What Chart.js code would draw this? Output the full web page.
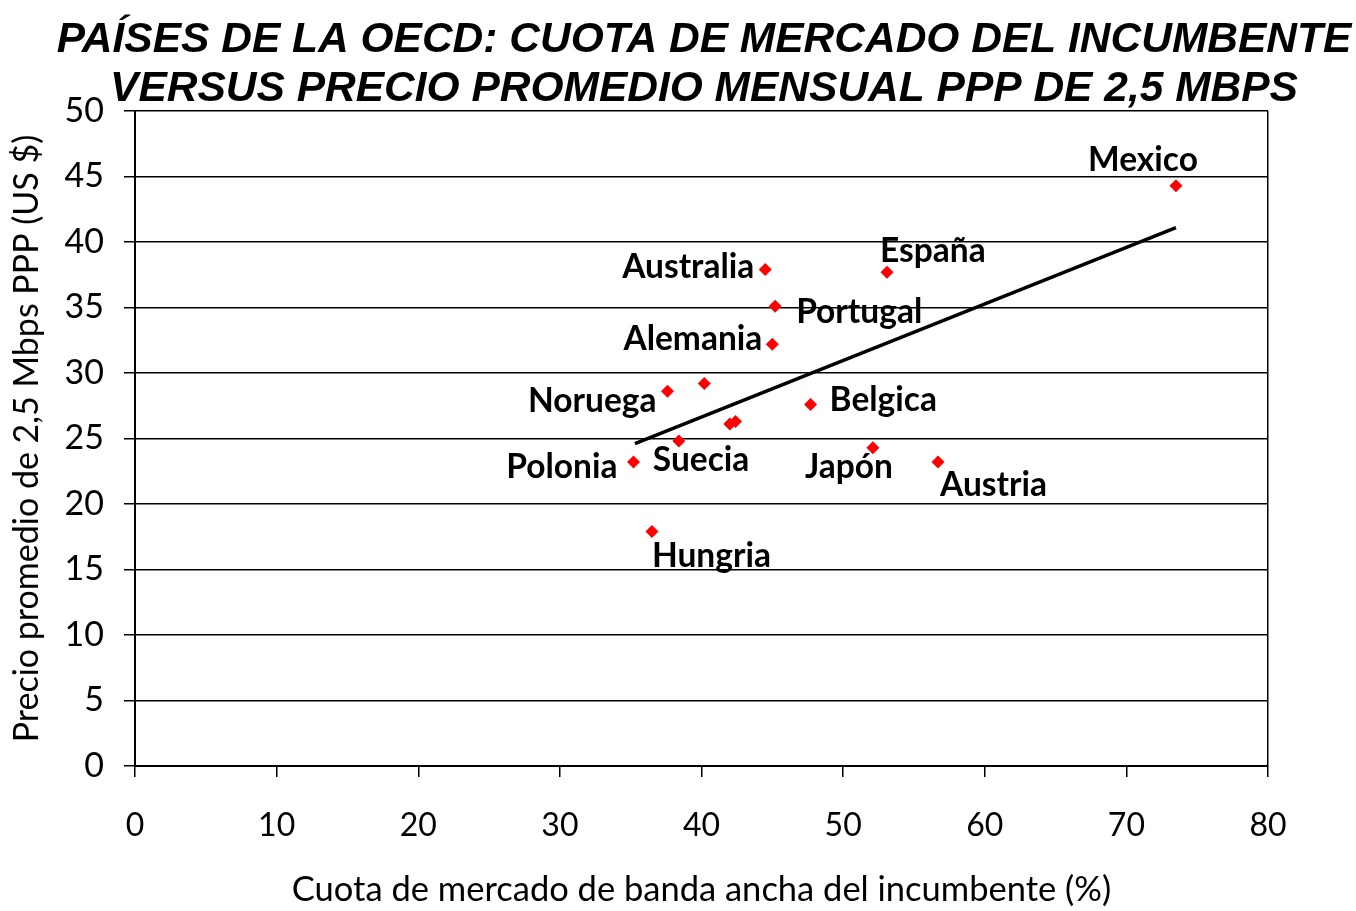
<!DOCTYPE html>
<html>
<head>
<meta charset="utf-8">
<script src="https://cdn.jsdelivr.net/npm/chart.js@4"></script>
<style>
  html, body { margin: 0; padding: 0; background: #fff; }
  #wrap { width: 1356px; height: 911px; }
</style>
</head>
<body>
<div id="wrap"><canvas id="chart" width="1356" height="911"></canvas></div>
<script>
// países (vacío = punto sin etiqueta)
var paises = ['Mexico', 'España', 'Australia', 'Portugal', 'Alemania', 'Noruega', '', 'Belgica', '', '', 'Suecia', 'Polonia', 'Japón', 'Austria', 'Hungria'];
var cuota = [73.5, 53.1, 44.5, 45.2, 45.0, 37.6, 40.2, 47.7, 42.0, 42.4, 38.4, 35.2, 52.1, 56.7, 36.5];
var precio = [44.3, 37.7, 37.9, 35.1, 32.2, 28.6, 29.2, 27.6, 26.1, 26.3, 24.8, 23.2, 24.3, 23.2, 17.9];
var tendenciaX = [35.3, 73.5];
var tendenciaY = [24.6, 41.1];
var titulo = ['PAÍSES DE LA OECD: CUOTA DE MERCADO DEL INCUMBENTE', 'VERSUS PRECIO PROMEDIO MENSUAL PPP DE 2,5 MBPS'];

// dónde va cada etiqueta respecto a su punto: [dx, dy, align]
var posEtiqueta = {
  'Mexico': [22, -25, 'right'],
  'España': [-7, -21, 'left'],
  'Australia': [-11, -2, 'right'],
  'Portugal': [21, 6, 'left'],
  'Alemania': [-10, -5, 'right'],
  'Noruega': [-11, 10, 'right'],
  'Belgica': [19, -4, 'left'],
  'Suecia': [-26, 19, 'left'],
  'Japón': [-24, 20, 'center'],
  'Austria': [2, 23, 'left'],
  'Polonia': [-16, 5, 'right'],
  'Hungria': [0, 25, 'left']
};

var puntos = cuota.map(function(x, i) { return { x: x, y: precio[i] }; });
var linea = tendenciaX.map(function(x, i) { return { x: x, y: tendenciaY[i] }; });

var etiquetasPlugin = {
  id: 'etiquetas',
  afterDatasetsDraw: function(chart) {
    var ctx = chart.ctx;
    var meta = chart.getDatasetMeta(0);
    ctx.save();
    ctx.font = 'bold 33.5px Lato, "Open Sans", sans-serif';
    ctx.fillStyle = '#000';
    ctx.textBaseline = 'middle';
    meta.data.forEach(function(pt, i) {
      var nombre = paises[i];
      if (!nombre) return;
      var p = posEtiqueta[nombre];
      ctx.textAlign = p[2];
      ctx.fillText(nombre, pt.x + p[0], pt.y + p[1]);
    });
    ctx.restore();
  }
};

var tituloPlugin = {
  id: 'tituloGrande',
  afterDraw: function(chart) {
    var ctx = chart.ctx;
    ctx.save();
    ctx.font = 'italic bold 42.5px "Liberation Sans", Arial, sans-serif';
    ctx.fillStyle = '#000';
    ctx.textAlign = 'center';
    ctx.textBaseline = 'alphabetic';
    ctx.fillText(titulo[0], 704, 52);
    ctx.fillText(titulo[1], 704, 101);
    ctx.restore();
  }
};

new Chart(document.getElementById('chart'), {
  type: 'scatter',
  data: {
    datasets: [
      {
        label: 'Países',
        data: puntos,
        pointStyle: 'rectRot',
        pointRadius: 6.5,
        pointBackgroundColor: '#ff0000',
        pointBorderColor: '#ff0000',
        pointBorderWidth: 0
      },
      {
        label: 'Tendencia',
        type: 'line',
        data: linea,
        borderColor: '#000',
        borderWidth: 3.5,
        pointRadius: 0,
        fill: false
      }
    ]
  },
  options: {
    responsive: false,
    animation: false,
    layout: { padding: { top: 111, right: 88, left: 0, bottom: 0 } },
    plugins: {
      legend: { display: false },
      tooltip: { enabled: false }
    },
    scales: {
      x: {
        type: 'linear',
        min: 0,
        max: 80,
        afterFit: function(s) { s.height = 145; },
        ticks: { stepSize: 10, color: '#000', padding: 29, font: { family: 'Lato, "Open Sans", sans-serif', size: 32 } },
        grid: {
          drawOnChartArea: true,
          color: function(c) { return c.tick && c.tick.value === 80 ? '#000' : 'rgba(0,0,0,0)'; },
          tickColor: '#000',
          tickLength: 11,
          lineWidth: 1.5
        },
        border: { color: '#000', width: 2 },
        title: {
          display: true,
          text: 'Cuota de mercado de banda ancha del incumbente (%)',
          color: '#000',
          font: { family: 'Lato, "Open Sans", sans-serif', size: 34.5 },
          padding: { top: 0, bottom: 0 }
        }
      },
      y: {
        min: 0,
        max: 50,
        afterFit: function(s) { s.width = 135; },
        ticks: { stepSize: 5, color: '#000', padding: 20, font: { family: 'Lato, "Open Sans", sans-serif', size: 34 } },
        grid: { color: '#000', lineWidth: 1.5, tickLength: 11, tickColor: '#000' },
        border: { color: '#000', width: 2 },
        title: {
          display: true,
          text: 'Precio promedio de 2,5 Mbps PPP (US $)',
          color: '#000',
          font: { family: 'Lato, "Open Sans", sans-serif', size: 34 },
          padding: { top: 7, bottom: 0 }
        }
      }
    }
  },
  plugins: [etiquetasPlugin, tituloPlugin]
});
</script>
</body>
</html>
